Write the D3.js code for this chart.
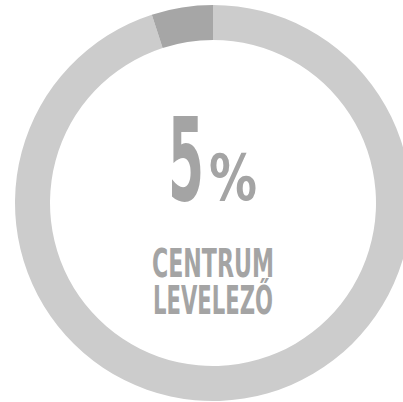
<!DOCTYPE html>
<html>
<head>
<meta charset="utf-8">
<script src="https://cdn.jsdelivr.net/npm/d3@7"></script>
<style>
  html, body { margin: 0; padding: 0; background: #fff; }
</style>
</head>
<body>
<div id="chart"></div>
<script>
// adatok
const share = 5;
const categories = ["Egyéb", "Centrum levelező"];
const values = [100 - share, share];
const labelLines = ["CENTRUM", "LEVELEZŐ"];

const width = 403, height = 402;
const cx = 213, cy = 203;
const outerR = 198, innerR = 163;

const color = d3.scaleOrdinal()
    .domain(categories)
    .range(["#cccccc", "#a6a6a6"]);

const svg = d3.select("#chart")
    .append("svg")
    .attr("width", width)
    .attr("height", height);

const g = svg.append("g").attr("transform", `translate(${cx},${cy})`);

const pie = d3.pie().sort(null).value(d => d.value);
const arc = d3.arc().innerRadius(innerR).outerRadius(outerR);

const arcs = pie(categories.map((c, i) => ({ key: c, value: values[i] })));

g.selectAll("path")
    .data(arcs)
    .join("path")
    .attr("d", arc)
    .attr("fill", d => color(d.data.key));

// középső szöveg (keskeny betű: függőlegesen nyújtva)
const font = "'DejaVu Sans Condensed', 'Liberation Sans Narrow', sans-serif";
const textColor = "#a4a4a4";

g.append("g")
    .attr("transform", "translate(-45,-3) scale(1,2)")
    .append("text")
    .attr("font-family", font)
    .attr("font-weight", "bold")
    .attr("font-size", 58)
    .attr("fill", textColor)
    .attr("textLength", 36)
    .attr("lengthAdjust", "spacingAndGlyphs")
    .text(share);

g.append("g")
    .attr("transform", "translate(-4,-3) scale(1,1.22)")
    .append("text")
    .attr("font-family", font)
    .attr("font-weight", "bold")
    .attr("font-size", 53)
    .attr("fill", textColor)
    .attr("textLength", 48)
    .attr("lengthAdjust", "spacingAndGlyphs")
    .text("%");

const lineY = [74, 111];
const lineW = [122, 120];
const label = g.append("text")
    .attr("font-family", font)
    .attr("font-weight", "bold")
    .attr("font-size", 39)
    .attr("fill", textColor);

labelLines.forEach((t, i) => {
    label.append("tspan")
        .attr("x", -lineW[i] / 2)
        .attr("y", lineY[i])
        .attr("textLength", lineW[i])
        .attr("lengthAdjust", "spacingAndGlyphs")
        .text(t);
});
</script>
</body>
</html>
